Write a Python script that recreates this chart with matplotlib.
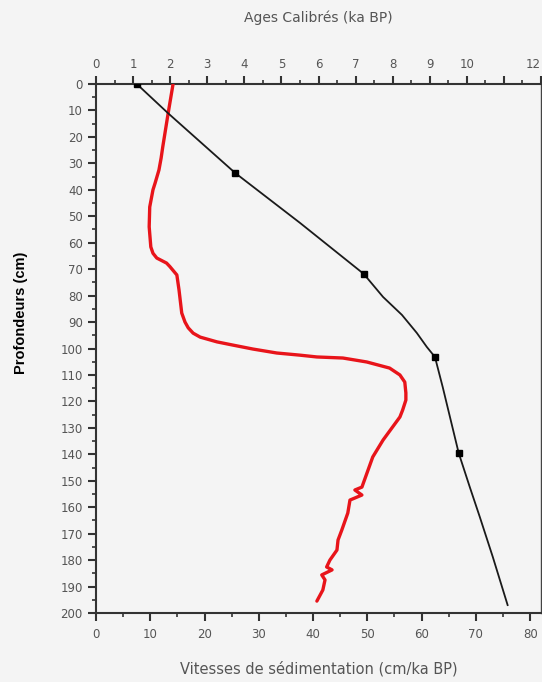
import matplotlib
matplotlib.use("Agg")
import matplotlib.pyplot as plt
import numpy as np
from matplotlib.ticker import MultipleLocator, FixedLocator

# Age-depth model (top axis, ka BP)
age_depth = [0, 11, 33.6, 52.5, 71.8, 80.5, 87.3, 94.1, 99.4, 103.2, 114.6, 139.5, 152.4, 163.7, 178.8, 197]
age_vals = [1.1, 1.94, 3.75, 5.5, 7.22, 7.74, 8.25, 8.65, 8.92, 9.14, 9.35, 9.78, 10.08, 10.35, 10.70, 11.1]
# Dated levels (squares)
date_depth = [0, 33.6, 71.8, 103.2, 139.5]
date_age = [1.1, 3.75, 7.22, 9.14, 9.78]

# Sedimentation rate (bottom axis, cm/ka BP)
rate_depth = [0, 11, 23.8, 28, 32.5, 37.4, 40, 46.5, 54, 61.6, 64, 65.8, 67.7, 69, 72.2, 77.9, 86.6,
              90, 92.2, 94.2, 95.7, 97.5, 98.7, 100.2, 101.7, 102.5, 103.2, 103.6, 105.1, 107.4,
              110, 112.7, 116.8, 119.5, 123.3, 125.9, 134.6, 141, 152.4, 153.5,
              155.4, 157.3, 162.2, 168.6, 172.4, 176.2, 180, 182.6, 183.7, 185.6, 187.5, 191.3, 195.5]
rate_vals = [14.2, 13.3, 12.3, 12.0, 11.6, 10.9, 10.5, 9.9, 9.8, 10.1, 10.5, 11.2, 13.0, 13.6, 14.9, 15.3, 15.8,
             16.4, 17.0, 17.9, 19.2, 22.3, 25.2, 28.9, 33.3, 37.5, 40.7, 45.5, 49.9, 54.1,
             56.0, 56.9, 57.1, 57.1, 56.5, 56.0, 52.9, 51.0, 49.0, 47.7,
             49.0, 46.8, 46.4, 45.3, 44.6, 44.4, 43.1, 42.5, 43.5, 41.6, 42.2, 41.8, 40.7]

bottom_ticks = [0, 10, 20, 30, 40, 50, 60, 70, 80]
top_ticks = [0, 1, 2, 3, 4, 5, 6, 7, 8, 9, 10, 12]
depth_ticks = list(range(0, 201, 10))

bg = '#f4f4f4'
gray = '#555555'
fig = plt.figure(figsize=(5.42, 6.82), dpi=100, facecolor=bg)
ax = fig.add_axes([96/542, 1-613/682, 445/542, 529/682], facecolor=bg)

ax.plot(rate_vals, rate_depth, color='#e8141a', lw=2.4, solid_capstyle='round',
        solid_joinstyle='round', zorder=3)
ax.set_xlim(0, 82)
ax.set_ylim(200, 0)
ax.xaxis.set_major_locator(FixedLocator(bottom_ticks))
ax.xaxis.set_minor_locator(MultipleLocator(5))
ax.yaxis.set_major_locator(FixedLocator(depth_ticks))
ax.yaxis.set_minor_locator(MultipleLocator(5))
ax.tick_params(axis='both', which='major', length=6, width=1.5, colors='#333333',
               labelcolor=gray, labelsize=8.5)
ax.tick_params(axis='both', which='minor', length=3, width=1.2, colors='#333333')
ax.tick_params(axis='x', pad=5)
for s in ['left', 'bottom', 'top']:
    ax.spines[s].set_linewidth(1.5)
    ax.spines[s].set_color('#333333')
ax.spines['right'].set_linewidth(1.0)
ax.spines['right'].set_color('#444444')
ax.set_ylabel('Profondeurs (cm)', fontsize=10.5, fontweight='bold',
              family=['Liberation Sans', 'DejaVu Sans'])
ax.yaxis.set_label_coords(-0.153, 0.567)
ax.set_xlabel('Vitesses de sédimentation (cm/ka BP)', fontsize=10.5, color=gray, labelpad=14)

ax2 = ax.twiny()
ax2.set_xlim(0, 12)
ax2.plot(age_vals, age_depth, color='#1a1a1a', lw=1.3, zorder=4)
ax2.plot(date_age, date_depth, 's', color='black', ms=5, zorder=5)
ax2.xaxis.set_major_locator(FixedLocator(top_ticks + [11]))
ax2.set_xticklabels([str(t) for t in top_ticks] + [''])
ax2.xaxis.set_minor_locator(MultipleLocator(0.5))
ax2.tick_params(axis='x', which='major', length=6, width=1.5, colors='#333333',
                labelcolor=gray, labelsize=8.5, pad=3)
ax2.tick_params(axis='x', which='minor', length=3, width=1.2, colors='#333333')
for lab in ax2.get_xticklabels():
    if lab.get_text() == '12':
        lab.set_horizontalalignment('right')
ax2.set_ylim(200, 0)
for s in ax2.spines.values():
    s.set_visible(False)
ax2.set_xlabel('Ages Calibrés (ka BP)', fontsize=10, color=gray, labelpad=26)

fig.savefig('out.png', dpi=100, facecolor=bg)
